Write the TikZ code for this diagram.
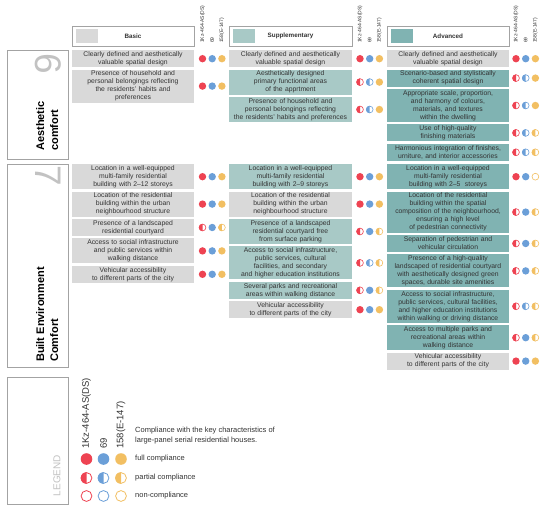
\documentclass[tikz,border=0pt]{standalone}
\usepackage{fontspec}
\setmainfont{Liberation Sans}
\usetikzlibrary{positioning}

\definecolor{ink}{HTML}{333333}
\definecolor{cframe}{HTML}{A3A3A3}
\definecolor{cbasic}{HTML}{D9D9D9}
\definecolor{csupp}{HTML}{A8C9C6}
\definecolor{cadv}{HTML}{80B3B2}
\definecolor{cred}{HTML}{EE4352}
\definecolor{cblue}{HTML}{6B9FD8}
\definecolor{cyel}{HTML}{F2BF62}
\definecolor{cdigit}{HTML}{C2C2C2}

\newcommand{\crad}{3.7pt}
\newcommand{\cwid}{0.6pt}
\newcommand{\mkf}[2]{\fill[#2] (#1) circle (\crad);}
\newcommand{\mkp}[2]{\fill[#2] (#1) ++(0,\crad) arc (90:270:\crad) -- cycle;
  \draw[#2, line width=\cwid] (#1) circle (\crad-0.5*\cwid);}
\newcommand{\mkn}[2]{\draw[#2, line width=\cwid] (#1) circle (\crad-0.5*\cwid);}
\newcommand{\trio}[5]{\csname mk#3\endcsname{#1-1 |- #2}{cred}
  \csname mk#4\endcsname{#1-2 |- #2}{cblue}
  \csname mk#5\endcsname{#1-3 |- #2}{cyel}}

\begin{document}
\begin{tikzpicture}[x=1pt, y=1pt,
    every node/.style={text=ink, inner sep=0pt},
    cell/.style={align=center, text width=122pt, font=\fontsize{6.8}{8}\selectfont},
    basicrow/.style={cell, fill=cbasic},
    supprow/.style={cell, fill=csupp, text width=123pt},
    advrow/.style={cell, fill=cadv},
    l2/.style={minimum height=17pt},
    l3/.style={minimum height=25pt},
    l4/.style={minimum height=33pt},
    l5/.style={minimum height=41pt},
    header/.style={draw=cframe, line width=0.6pt, minimum width=122pt, minimum height=20pt,
      font=\bfseries\fontsize{6.3}{7}\selectfont},
    catbox/.style={draw=cframe, line width=0.8pt, minimum width=61pt, anchor=north west},
    cattitle/.style={rotate=90, anchor=north west, align=left, text=black,
      font=\bfseries\fontsize{11}{14}\selectfont},
    bigdigit/.style={rotate=-90, text=cdigit, font=\fontsize{37}{37}\selectfont},
    serlabel/.style={rotate=90, anchor=west, font=\fontsize{5}{6}\selectfont},
    lglabel/.style={rotate=90, anchor=west, font=\fontsize{9.5}{11}\selectfont},
    lgtext/.style={anchor=west, align=left, font=\fontsize{7.5}{10}\selectfont}]

    \useasboundingbox (0,0) rectangle (550,-511);
    \fill[white] (0,0) rectangle (550,-511);

    \node[header] (hb) at (133,-36) {Basic};
    \node[header, minimum width=123pt] (hs) at (290.5,-36) {Supplementary};
    \node[header] (ha) at (448,-36) {Advanced};
    \fill[cbasic] ([shift={(4pt,-3pt)}]hb.north west) rectangle ++(22,-14);
    \fill[csupp] ([shift={(4pt,-3pt)}]hs.north west) rectangle ++(22,-14);
    \fill[cadv] ([shift={(4pt,-3pt)}]ha.north west) rectangle ++(22,-14);

    \node[catbox, minimum height=109pt] (aes) at (7,-50) {};
    \node[catbox, minimum height=203pt] (env) at (7,-164) {};
    \node[catbox, minimum height=127pt] (lgd) at (7,-377) {};
    \node[bigdigit] (six) at (48.5,-63.5) {6};
    \node[bigdigit] (seven) at (48.5,-176) {7};
    \node[cattitle] (aestitle) at (36,-151) {Aesthetic\\comfort};
    \node[cattitle] (envtitle) at (36,-362) {Built Environment\\Comfort};
    \node[rotate=90, text=cdigit, font=\fontsize{10}{10}\selectfont] (lgword) at (57,-475.5) {LEGEND};

    \coordinate (labbase) at (0,-43);
    \foreach \g/\x in {kb/202.5, ks/360, ka/516}{
        \foreach \i in {1,2,3}
            \coordinate (\g-\i) at (\x+9.7*\i-9.7,0);
        \node[serlabel] at (\g-1 |- labbase) {1Kz-464-AS(DS)};
        \node[serlabel] at (\g-2 |- labbase) {69};
        \node[serlabel] at (\g-3 |- labbase) {158(E-147)};
    }

    \node[basicrow, l2, anchor=north] (ba1) at (133,-50) {Clearly defined and aesthetically\\valuable spatial design};
    \node[basicrow, l4, below=2pt of ba1] (ba2) {Presence of household and\\personal belongings reflecting\\the residents' habits and\\preferences};
    \node[basicrow, l3, anchor=north] (bb1) at (133,-164) {Location in a well-equipped\\multi-family residential\\building with 2–12 storeys};
    \node[basicrow, l3, below=2pt of bb1] (bb2) {Location of the residential\\building within the urban\\neighbourhood structure};
    \node[basicrow, l2, below=2pt of bb2] (bb3) {Presence of a landscaped\\residential courtyard};
    \node[basicrow, l3, below=2pt of bb3] (bb4) {Access to social infrastructure\\and public services within\\walking distance};
    \node[basicrow, l2, below=2pt of bb4] (bb5) {Vehicular accessibility\\to different parts of the city};

    \node[basicrow, text width=123pt, l2, anchor=north] (sa1) at (290.5,-50) {Clearly defined and aesthetically\\valuable spatial design};
    \node[supprow, l3, below=2pt of sa1] (sa2) {Aesthetically designed\\primary functional areas\\of the apprtment};
    \node[supprow, l3, below=2pt of sa2] (sa3) {Presence of household and\\personal belongings reflecting\\the residents' habits and preferences};
    \node[supprow, l3, anchor=north] (sb1) at (290.5,-164) {Location in a well-equipped\\multi-family residential\\building with 2–9 storeys};
    \node[basicrow, text width=123pt, l3, below=2pt of sb1] (sb2) {Location of the residential\\building within the urban\\neighbourhood structure};
    \node[supprow, l3, below=2pt of sb2] (sb3) {Presence of a landscaped\\residential courtyard free\\from surface parking};
    \node[supprow, l4, below=2pt of sb3] (sb4) {Access to social infrastructure,\\public services, cultural\\facilities, and secondary\\and higher education institutions};
    \node[supprow, l2, below=2pt of sb4] (sb5) {Several parks and recreational\\areas within walking distance};
    \node[basicrow, text width=123pt, l2, below=2pt of sb5] (sb6) {Vehicular accessibility\\to different parts of the city};

    \node[basicrow, l2, anchor=north] (aa1) at (448,-50) {Clearly defined and aesthetically\\valuable spatial design};
    \node[advrow, l2, below=2pt of aa1] (aa2) {Scenario-based and stylistically\\coherent spatial design};
    \node[advrow, l4, below=2pt of aa2] (aa3) {Appropriate scale, proportion,\\and harmony of colours,\\materials, and textures\\within the dwelling};
    \node[advrow, l2, below=2pt of aa3] (aa4) {Use of high-quality\\finishing materials};
    \node[advrow, l2, below=2pt of aa4] (aa5) {Harmonious integration of finishes,\\urniture, and interior accessories};
    \node[advrow, l3, anchor=north] (ab1) at (448,-164) {Location in a well-equipped\\multi-family residential\\building with 2–5\ \ storeys};
    \node[advrow, l5, below=2pt of ab1] (ab2) {Location of the residential\\building within the spatial\\composition of the neighbourhood,\\ensuring a high level\\of pedestrian connectivity};
    \node[advrow, l2, below=2pt of ab2] (ab3) {Separation of pedestrian and\\vehicular circulation};
    \node[advrow, l4, below=2pt of ab3] (ab4) {Presence of a high-quality\\landscaped of residential courtyard\\with aesthetically designed green\\spaces, durable site amenities};
    \node[advrow, l4, below=2pt of ab4] (ab5) {Access to social infrastructure,\\public services, cultural facilities,\\and higher education institutions\\within walking or driving distance};
    \node[advrow, l3, below=2pt of ab5] (ab6) {Access to multiple parks and\\recreational areas within\\walking distance};
    \node[basicrow, l2, below=2pt of ab6] (ab7) {Vehicular accessibility\\to different parts of the city};

    \trio{kb}{ba1}{f}{f}{f}
    \trio{kb}{ba2}{f}{f}{f}
    \trio{kb}{bb1}{f}{f}{f}
    \trio{kb}{bb2}{f}{f}{f}
    \trio{kb}{bb3}{p}{f}{p}
    \trio{kb}{bb4}{f}{f}{f}
    \trio{kb}{bb5}{f}{f}{f}

    \trio{ks}{sa1}{f}{f}{f}
    \trio{ks}{sa2}{p}{p}{f}
    \trio{ks}{sa3}{p}{p}{f}
    \trio{ks}{sb1}{f}{f}{f}
    \trio{ks}{sb2}{f}{f}{f}
    \trio{ks}{sb3}{p}{f}{p}
    \trio{ks}{sb4}{p}{p}{p}
    \trio{ks}{sb5}{p}{f}{p}
    \trio{ks}{sb6}{f}{f}{f}

    \trio{ka}{aa1}{f}{f}{f}
    \trio{ka}{aa2}{p}{p}{f}
    \trio{ka}{aa3}{p}{p}{f}
    \trio{ka}{aa4}{p}{p}{p}
    \trio{ka}{aa5}{p}{p}{p}
    \trio{ka}{ab1}{f}{f}{n}
    \trio{ka}{ab2}{p}{f}{p}
    \trio{ka}{ab3}{p}{f}{p}
    \trio{ka}{ab4}{p}{f}{p}
    \trio{ka}{ab5}{p}{p}{p}
    \trio{ka}{ab6}{p}{f}{p}
    \trio{ka}{ab7}{f}{f}{f}

    \node[lgtext] (lgtitle) at (135,-436) {Compliance with the key characteristics of\\large-panel serial residential houses.};
    \node[lgtext] (lgfull) at (135,-459) {full compliance};
    \node[lgtext] (lgpart) at (135,-478) {partial compliance};
    \node[lgtext] (lgnone) at (135,-496) {non-compliance};
    \coordinate (lgbase) at (0,-449);
    \coordinate (lg-1) at (86.5,0);
    \coordinate (lg-2) at (103.5,0);
    \coordinate (lg-3) at (121,0);
    \node[lglabel] at (lg-1 |- lgbase) {1Kz-464-AS(DS)};
    \node[lglabel] at (lg-2 |- lgbase) {69};
    \node[lglabel] at (lg-3 |- lgbase) {158(E-147)};

    \renewcommand{\crad}{5.8pt}
    \renewcommand{\cwid}{0.8pt}
    \trio{lg}{lgfull}{f}{f}{f}
    \trio{lg}{lgpart}{p}{p}{p}
    \trio{lg}{lgnone}{n}{n}{n}

\end{tikzpicture}
\end{document}
